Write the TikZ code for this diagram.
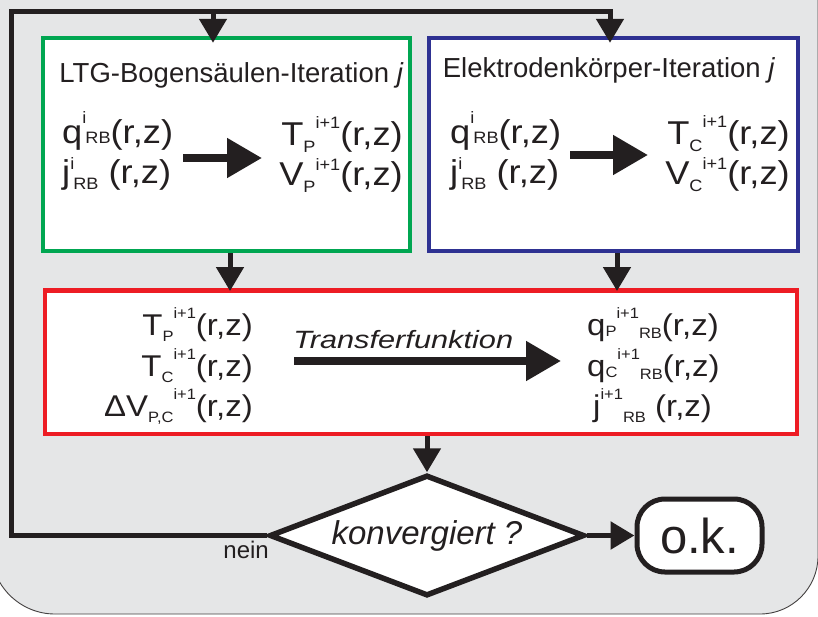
\documentclass[tikz,border=0pt]{standalone}
\usepackage{fontspec}
\setmainfont{Liberation Sans}
\newfontfamily\ff[FakeStretch=1.1]{Liberation Sans}
\usetikzlibrary{arrows.meta,shapes.geometric}
\definecolor{bggray}{RGB}{229,230,231}
\definecolor{ink}{RGB}{35,31,32}
\definecolor{grn}{RGB}{0,166,81}
\definecolor{blu}{RGB}{46,49,146}
\definecolor{rd}{RGB}{237,28,36}
\def\scsz{15}
\newcommand{\Up}[2][0.55em]{\raisebox{#1}{\fontsize{\scsz}{\scsz}\selectfont #2}}
\newcommand{\Dn}[2][0.15em]{\raisebox{-#1}{\fontsize{\scsz}{\scsz}\selectfont #2}}
\tikzset{
  box/.style={draw=#1, line width=4.5pt, fill=white, inner sep=0pt},
  ttl/.style={font=\fontsize{27.5}{30}\selectfont, text=ink, inner sep=0pt},
  frm/.style={font={\def\scsz{15}\ff\fontsize{30}{36}\selectfont}, text=ink, inner sep=0pt},
  bigfrm/.style={font={\def\scsz{16.5}\ff\fontsize{33}{38}\selectfont}, text=ink, inner sep=0pt},
  flow/.style={draw=ink, line width=5pt, -{Triangle[length=24pt,width=27pt]}},
  fat/.style={draw=ink, line width=8pt, -{Triangle[length=35pt,width=38pt]}},
}
\begin{document}
\begin{tikzpicture}[x=1pt,y=-1pt]
\useasboundingbox (0,0) rectangle (818,616);
% background
\path[fill=bggray, draw=ink!85, line width=0.9pt]
  (-9,-10) -- (-9,550) .. controls (-9,585.3) and (19.7,614) .. (55,614)
  -- (760,614) .. controls (792,614) and (818,588) .. (818,556)
  -- (818,-10) -- cycle;

% boxes
\node[box=grn, minimum width=367pt, minimum height=213pt] (lb) at (226.5,144.5) {};
\node[box=blu, minimum width=369pt, minimum height=213pt] (eb) at (613.5,144.5) {};
\node[box=rd, minimum width=752pt, minimum height=143.5pt] (rb) at (421,362) {};

% titles
\node[ttl, anchor=base] (lt) at (231.5,82) {LTG-Bogensäulen-Iteration \textit{j}};
\node[ttl, anchor=base] (et) at (609,77) {Elektrodenkörper-Iteration \textit{j}};

% green box formulas
\node[bigfrm, anchor=base west] (lq) at (62,143) {q\Up[0.6em]{i}\kern-1pt\Dn[0.03em]{RB}(r,z)};
\node[bigfrm, anchor=base west] (lj) at (62,183) {j\Up[0.42em]{i}\kern-1pt\Dn[0.2em]{RB} (r,z)};
\node[bigfrm, anchor=base east] (lT) at (403,145) {T\Dn[0.22em]{P}\Up[0.5em]{i+1}(r,z)};
\node[bigfrm, anchor=base east] (lV) at (403,185) {V\Dn[0.22em]{P}\Up[0.45em]{i+1}(r,z)};
\coordinate (la1) at (183,158);
\coordinate (la2) at (262,158);
\draw[fat] (la1) -- (la2);

% blue box formulas
\node[bigfrm, anchor=base west] (eq) at (450,143) {q\Up[0.6em]{i}\kern-1pt\Dn[0.03em]{RB}(r,z)};
\node[bigfrm, anchor=base west] (ej) at (450,183) {j\Up[0.42em]{i}\kern-1pt\Dn[0.2em]{RB} (r,z)};
\node[bigfrm, anchor=base east] (eT) at (790,144) {T\Dn[0.22em]{C}\Up[0.5em]{i+1}(r,z)};
\node[bigfrm, anchor=base east] (eV) at (790,184) {V\Dn[0.22em]{C}\Up[0.45em]{i+1}(r,z)};
\coordinate (ea1) at (570,155);
\coordinate (ea2) at (648,155);
\draw[fat] (ea1) -- (ea2);

% red box formulas
\node[frm, anchor=base east] (rT1) at (253,335) {T\Dn[0.2em]{P}\Up{i+1}(r,z)};
\node[frm, anchor=base east] (rT2) at (253,376) {T\Dn[0.2em]{C}\Up{i+1}(r,z)};
\node[frm, anchor=base east] (rV) at (253,416) {ΔV\Dn[0.2em]{P,C}\Up{i+1}(r,z)};
\node[frm, anchor=base west] (rq1) at (587,335) {q\Dn[0.05em]{P}\Up{i+1}\Dn[0.1em]{RB}(r,z)};
\node[frm, anchor=base west] (rq2) at (587,376) {q\Dn[0.05em]{C}\Up{i+1}\Dn[0.1em]{RB}(r,z)};
\node[frm, anchor=base west] (rj) at (593,416) {j\Up{i+1}\Dn[0.2em]{RB} (r,z)};
\node[font=\itshape\fontsize{25}{30}\selectfont, text=ink, inner sep=0pt, anchor=base west, xscale=1.23] (tf) at (293,348) {Transferfunktion};
\coordinate (ta1) at (294,361);
\coordinate (ta2) at (561,361);
\draw[fat] (ta1) -- (ta2);

% decision and end
\node[diamond, draw=ink, line width=5.5pt, fill=white, inner sep=0pt, aspect=2.6,
      minimum width=315pt, minimum height=121pt, text=ink,
      font=\itshape\fontsize{33}{36}\selectfont] (dia) at (427,535.5) {konvergiert ?};
\node[draw=ink, line width=5pt, fill=white, rounded corners=28pt, inner sep=0pt,
      minimum width=125pt, minimum height=73pt, text=ink,
      font=\fontsize{49}{52}\selectfont] (ok) at (699.5,535.5) {o.k.};
\node[font=\fontsize{24}{28}\selectfont, text=ink, inner sep=0pt, anchor=base east] (nein) at (269,558) {nein};

% connectors
\coordinate (c1) at (11,11);
\coordinate (gin) at ([xshift=-13.5pt]lb.north);
\coordinate (ein) at ([xshift=-3.5pt]eb.north);
\draw[flow, shorten >=-7pt] (dia.west) -| (c1) -| (ein);
\draw[flow, shorten >=-7pt] (gin |- c1) -- (gin);
\draw[flow, shorten >=-3pt] ([xshift=3.5pt]lb.south) -- ([xshift=3.5pt]lb.south |- rb.north);
\draw[flow, shorten >=-3pt] ([xshift=3.5pt]eb.south) -- ([xshift=3.5pt]eb.south |- rb.north);
\draw[flow] (dia.north |- rb.south) -- (dia.north);
\draw[flow, line width=5.5pt] (dia.east) -- (ok.west);
\end{tikzpicture}
\end{document}
